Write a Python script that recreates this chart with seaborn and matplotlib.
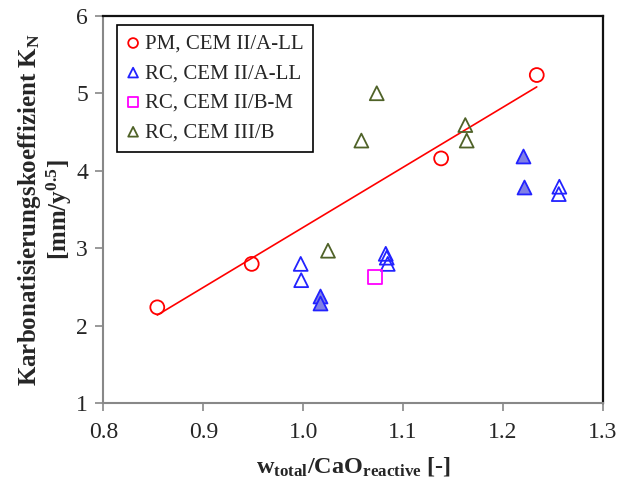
import numpy as np
import pandas as pd
import matplotlib
matplotlib.use("Agg")
import matplotlib.pyplot as plt
import seaborn as sns

# ---- data ----
pm_x = [0.854, 0.9485, 1.138, 1.2337]
pm_y = [2.24, 2.80, 4.16, 5.235]

rc_a_open_x = [0.9975, 0.998, 1.0826, 1.0836, 1.0846, 1.2563, 1.2557]
rc_a_open_y = [2.80, 2.59, 2.93, 2.88, 2.80, 3.795, 3.70]

rc_a_fill_x = [1.0168, 1.0168, 1.2197, 1.2213]
rc_a_fill_y = [2.38, 2.29, 4.19, 3.79]

rc_bm_x = [1.0719]
rc_bm_y = [2.63]

rc_iii_x = [1.0736, 1.0582, 1.1622, 1.1636, 1.0248]
rc_iii_y = [5.00, 4.39, 4.59, 4.39, 2.97]

labels = ["PM, CEM II/A-LL", "RC, CEM II/A-LL", "RC, CEM II/B-M", "RC, CEM III/B"]
x_ticks = [0.8, 0.9, 1.0, 1.1, 1.2, 1.3]
x_ticklabels = ["0.8", "0.9", "1.0", "1.1", "1.2", "1.3"]
y_ticks = [1, 2, 3, 4, 5, 6]

# ---- style ----
sns.set_style("ticks")
plt.rcParams["font.family"] = ["Liberation Serif", "DejaVu Serif"]
plt.rcParams["mathtext.fontset"] = "custom"
plt.rcParams["mathtext.rm"] = "Liberation Serif"
plt.rcParams["mathtext.bf"] = "Liberation Serif:bold"
plt.rcParams["mathtext.it"] = "Liberation Serif:italic"

fig = plt.figure(figsize=(6.19, 4.83), dpi=100)
ax = fig.add_axes([0.1669, 0.1646, 0.8073, 0.8029])

red = "#FF0000"
blue = "#2222FF"
blue_fill = "#8080E6"
magenta = "#FF00FF"
olive = "#4F6228"
ms = 100

# regression line of PM data
sns.regplot(x=pm_x, y=pm_y, ax=ax, scatter=False, ci=None, truncate=True,
            line_kws=dict(color=red, lw=1.2, zorder=2))

sns.scatterplot(x=pm_x, y=pm_y, ax=ax, marker="o", s=ms, facecolor="none",
                edgecolor=red, linewidth=1.3, label=labels[0], zorder=3)
sns.scatterplot(x=rc_a_open_x, y=rc_a_open_y, ax=ax, marker="^", s=ms, facecolor="none",
                edgecolor=blue, linewidth=1.3, label=labels[1], zorder=3)
sns.scatterplot(x=rc_a_fill_x, y=rc_a_fill_y, ax=ax, marker="^", s=ms, facecolor=blue_fill,
                edgecolor=blue, linewidth=1.3, label="_nolegend_", zorder=3)
sns.scatterplot(x=rc_bm_x, y=rc_bm_y, ax=ax, marker="s", s=ms * 0.95, facecolor="none",
                edgecolor=magenta, linewidth=1.3, label=labels[2], zorder=3)
sns.scatterplot(x=rc_iii_x, y=rc_iii_y, ax=ax, marker="^", s=ms, facecolor="none",
                edgecolor=olive, linewidth=1.3, label=labels[3], zorder=3)

ax.set_xlim(0.8, 1.3)
ax.set_ylim(1, 6)
ax.set_xticks(x_ticks)
ax.set_xticklabels(x_ticklabels)
ax.set_yticks(y_ticks)
ax.tick_params(axis="both", direction="out", length=6, width=1.2, color="#888888",
               labelsize=17)
ax.tick_params(axis="x", pad=7)
ax.tick_params(axis="y", pad=5)
for side in ["left", "bottom"]:
    ax.spines[side].set_color("#888888")
    ax.spines[side].set_linewidth(1.5)
for side in ["top", "right"]:
    ax.spines[side].set_color("#111111")
    ax.spines[side].set_linewidth(1.6)
    ax.spines[side].set_visible(True)

ax.set_xlabel(r"w$_{\mathbf{total}}$/CaO$_{\mathbf{reactive}}$ [-]", fontsize=17.5,
              fontweight="bold", labelpad=9)
ax.set_ylabel("Karbonatisierungskoeffizient K$_{\\mathbf{N}}$\n[mm/y$^{\\mathbf{0.5}}$]",
              fontsize=18, fontweight="bold", labelpad=1.5, linespacing=1.1)

leg = ax.legend(loc="upper left", bbox_to_anchor=(0.020, 0.988), frameon=True,
                fancybox=False, edgecolor="black", fontsize=15, markerscale=0.7,
                handlelength=0.6, handletextpad=0.25, labelspacing=0.48,
                borderpad=0.45, borderaxespad=0.2)
leg.get_frame().set_linewidth(1.2)
leg.get_frame().set_facecolor("white")
leg.get_frame().set_alpha(1)

fig.savefig("out.png", dpi=100)
